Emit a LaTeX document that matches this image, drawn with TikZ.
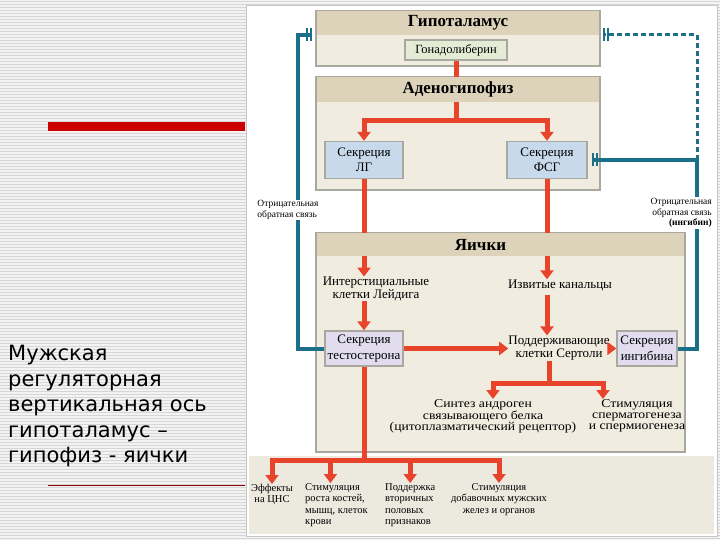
\documentclass[tikz,border=0pt]{standalone}
\usepackage{fontspec}
\setmainfont{Liberation Serif}
\newfontfamily\slidefont{DejaVu Sans}
\usetikzlibrary{arrows.meta,positioning}
\definecolor{hdr}{HTML}{DCD3BA}
\definecolor{bdy}{HTML}{F0ECDF}
\definecolor{frm}{HTML}{A9A89E}
\definecolor{redarr}{HTML}{E8432B}
\definecolor{fbteal}{HTML}{1C6F88}
\definecolor{lgblue}{HTML}{C7D9EA}
\definecolor{lavend}{HTML}{E1DDEF}
\definecolor{gnrhgr}{HTML}{E5ECD6}
\definecolor{slidered}{HTML}{CC0000}
\definecolor{stripe}{HTML}{D6D6D6}
\definecolor{slidebg}{HTML}{F3F3F3}
\definecolor{lowbg}{HTML}{ECE9DF}
\begin{document}
\begin{tikzpicture}[x=1pt, y=-1pt, line join=miter,
    organ/.style={draw=frm, fill=bdy, line width=1.8pt, inner sep=0pt},
    hdrbar/.style={fill=hdr, inner sep=0pt, anchor=north},
    hdrtext/.style={font=\fontsize{17}{19}\selectfont\bfseries},
    subbox/.style={draw=frm, line width=1.4pt, inner sep=0pt, align=center,
      font=\fontsize{13}{15.5}\selectfont},
    plain/.style={align=center, inner sep=0pt, font=\fontsize{13}{13.5}\selectfont},
    small/.style={align=center, inner sep=0pt, font=\fontsize{12}{11}\selectfont\addfontfeature{FakeStretch=1.14}},
    tiny/.style={inner sep=0pt, font=\fontsize{10.5}{11.5}\selectfont},
    fblabel/.style={fill=white, inner sep=1pt, font=\fontsize{9.5}{10.5}\selectfont},
    redline/.style={draw=redarr, line width=5pt},
    redtip/.style={redline, -{Triangle[width=13pt,length=9pt]}},
    fb/.style={draw=fbteal, line width=4pt},
    fbdash/.style={draw=fbteal, line width=3pt, dash pattern=on 5pt off 3pt},
    fbbar/.style={-{Bar[width=13pt,line width=2.5pt,sep=2pt]Bar[width=13pt,line width=1.8pt]}}]
  \useasboundingbox (0,0) rectangle (720,540);
  % slide background
  \fill[slidebg] (0,0) rectangle (720,540);
  \foreach \y in {1.5,4.5,...,540} \draw[stripe, line width=0.9pt] (0,\y) -- (720,\y);
  \draw[fill=white, draw=gray!45, line width=0.8pt] (246,5) rectangle (717,536);
  \fill[lowbg] (249,456) rectangle (714,534);
  \fill[slidered] (48,122) rectangle (245,131);
  \draw[slidered!70!black, line width=0.8pt] (48,485) -- (245,485);
  \node[font=\slidefont\fontsize{21}{25.5}\selectfont, align=left, anchor=north west, inner sep=0pt] (ttl) at (8,345)
    {Мужская\\регуляторная\\вертикальная ось\\гипоталамус –\\гипофиз - яички};

  % organs
  \node[organ, minimum width=284pt, minimum height=55pt] (hyp) at (458,38.5) {};
  \node[organ, minimum width=284pt, minimum height=113pt] (adeno) at (458,133.5) {};
  \node[organ, minimum width=369pt, minimum height=219pt] (testes) at (500.5,342.5) {};

  % red pathways
  \coordinate (jA) at (456,121);
  \coordinate (jB) at (549,383);
  \coordinate (jC) at (364,460);
  \node[subbox, fill=gnrhgr, minimum width=102pt, minimum height=20pt, font=\fontsize{12.5}{14}\selectfont] (gnrh) at (456,50) {Гонадолиберин};
  \node[subbox, fill=lgblue, minimum width=78pt, minimum height=37pt] (lg) at (364,160) {Секреция\\ЛГ};
  \node[subbox, fill=lgblue, minimum width=80pt, minimum height=37pt] (fsh) at (547,160) {Секреция\\ФСГ};
  \node[plain] (leyd) at (376,289) {Интерстициальные\\клетки Лейдига};
  \node[plain] (tub) at (560,285) {Извитые канальцы};
  \node[subbox, fill=lavend, minimum width=78pt, minimum height=35pt] (tst) at (364,348.5) {Секреция\\тестостерона};
  \node[plain] (sert) at (559,348) {Поддерживающие\\клетки Сертоли};
  \node[subbox, fill=lavend, minimum width=60pt, minimum height=35pt] (inh) at (647,348.5) {Секреция\\ингибина};
  \node[small, anchor=north] (synth) at (483,399) {Синтез андроген\\связывающего белка\\(цитоплазматический рецептор)};
  \node[small, anchor=north] (sperm) at (637,399) {Стимуляция\\сперматогенеза\\и спермиогенеза};
  \node[tiny, align=center, anchor=north] (eff) at (272,484) {Эффекты\\на ЦНС};
  \node[tiny, align=left, anchor=north west] (bone) at (305,483) {Стимуляция\\роста костей,\\мышц, клеток\\крови};
  \node[tiny, align=left, anchor=north west] (sec) at (385,483) {Поддержка\\вторичных\\половых\\признаков};
  \node[tiny, align=center, anchor=north] (acc) at (499,483) {Стимуляция\\добавочных мужских\\желез и органов};

  \draw[redline] (gnrh.south) -- (jA);
  \draw[redtip] (jA) -| (lg.north);
  \draw[redtip] (jA) -| (fsh.north);
  \draw[redtip] (lg.south) -- (lg.south |- leyd.north);
  \draw[redtip] (fsh.south) -- (fsh.south |- tub.north);
  \draw[redtip] (tst.north |- leyd.south) -- (tst.north);
  \draw[redtip] ([yshift=-4pt]fsh.south |- tub.south) -- (fsh.south |- sert.north);
  \draw[redtip] (tst.east) -- (sert.west |- tst.east);
  \draw[redtip] (sert.east |- inh.west) -- (inh.west);
  \draw[redline] (sert.south -| jB) -- (jB);
  \draw[redtip] (jB) -| ([xshift=10pt]synth.north);
  \draw[redtip] (jB) -| ([xshift=-34pt]sperm.north);
  \draw[redline] (tst.south) -- (jC);
  \draw[redtip] (jC) -| (eff.north);
  \draw[redtip] (jC) -| ([xshift=-6pt]bone.north);
  \draw[redtip] (jC) -| (sec.north);
  \draw[redtip] (jC) -| (acc.north);

  % headers over the lines
  \node[hdrbar, minimum width=282pt, minimum height=24pt] (hypH) at ([yshift=-0.9pt]hyp.north) {};
  \node[hdrbar, minimum width=282pt, minimum height=25pt] (adenoH) at ([yshift=-0.9pt]adeno.north) {};
  \node[hdrbar, minimum width=367pt, minimum height=23pt] (testesH) at ([yshift=-0.9pt]testes.north) {};
  \node[hdrtext] (hypT) at (hypH) {Гипоталамус};
  \node[hdrtext] (adenoT) at (adenoH) {Аденогипофиз};
  \node[hdrtext] (testesT) at ([xshift=-20pt]testesH.center) {Яички};

  % feedback
  \coordinate (fbLtop) at (298,35);
  \coordinate (fbLend) at (312,35);
  \coordinate (fbRmid) at (697,160);
  \coordinate (fbRend) at (603,35);
  \draw[fb, fbbar] (tst.west) -| (fbLtop) -- (fbLend);
  \draw[fb, fbbar] (inh.east) -| (fbRmid) -- ([xshift=4pt]fsh.east);
  \draw[fbdash, fbbar] (fbRmid) |- (fbRend);
  \node[fblabel, align=left] (negL) at (288,210) {Отрицательная\\обратная связь};
  \node[fblabel, align=right, anchor=east] (negR) at (713,213) {Отрицательная\\обратная связь\\\textbf{(ингибин)}};
\end{tikzpicture}
\end{document}
